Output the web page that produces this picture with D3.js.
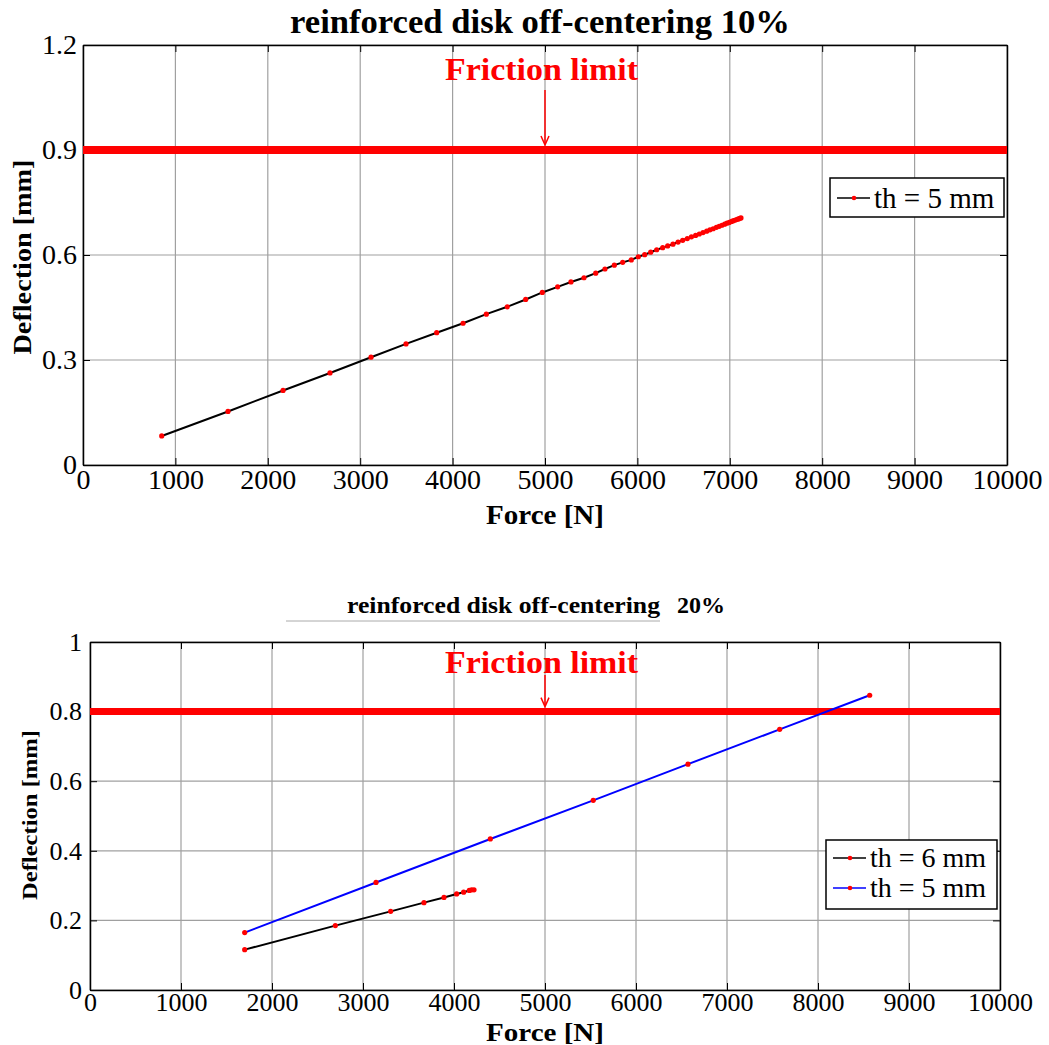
<!DOCTYPE html>
<html>
<head>
<meta charset="utf-8">
<script src="https://cdn.jsdelivr.net/npm/d3@7"></script>
<style>
    body { margin: 0; background: #fff; }
    text { font-family: "Liberation Serif", "Times New Roman", serif; }
</style>
</head>
<body>
<script>
// top chart: off-centering 10%, th = 5 mm
var force10 = [852, 1569, 2165, 2673, 3117, 3496, 3828, 4113, 4365, 4592, 4791, 4971, 5137,
    5281, 5422, 5549, 5649, 5750, 5841, 5934, 6010, 6079, 6144, 6209, 6274, 6328, 6385,
    6440, 6490, 6540, 6585, 6630, 6670, 6710, 6750, 6785, 6820, 6855, 6885, 6915, 6945,
    6970, 6995, 7020, 7040, 7060, 7080, 7095, 7110, 7121];
var defl10 = [0.083, 0.153, 0.213, 0.263, 0.308, 0.346, 0.378, 0.405, 0.431, 0.452, 0.473, 0.493, 0.509,
    0.523, 0.535, 0.548, 0.560, 0.571, 0.579, 0.586, 0.595, 0.601, 0.608, 0.615, 0.621, 0.626, 0.631,
    0.637, 0.642, 0.647, 0.652, 0.656, 0.660, 0.664, 0.668, 0.672, 0.675, 0.679, 0.682, 0.685, 0.688,
    0.691, 0.693, 0.696, 0.698, 0.700, 0.702, 0.703, 0.705, 0.706];
var limit10 = 0.9;

// bottom chart: off-centering 20%
var force20th6 = [1700, 2696, 3304, 3670, 3890, 4029, 4106, 4168, 4194, 4220];
var defl20th6 = [0.116, 0.185, 0.226, 0.251, 0.266, 0.276, 0.281, 0.286, 0.288, 0.288];
var force20th5 = [1700, 3143, 4399, 5530, 6571, 7579, 8568];
var defl20th5 = [0.165, 0.309, 0.434, 0.545, 0.649, 0.749, 0.847];
var limit20 = 0.8;

var xTicks = d3.range(0, 10001, 1000);
var yTicks10 = [0, 0.3, 0.6, 0.9, 1.2];
var yTicks20 = [0, 0.2, 0.4, 0.6, 0.8, 1];

var serif = "'Liberation Serif', 'Times New Roman', serif";

var svg = d3.select("body").append("svg")
    .attr("width", 1049)
    .attr("height", 1045);

function zip(xs, ys) {
    return xs.map(function (x, i) { return [x, ys[i]]; });
}

function drawPanel(opt) {
    var x = d3.scaleLinear().domain([0, 10000]).range([opt.left, opt.right]);
    var y = d3.scaleLinear().domain([0, opt.ymax]).range([opt.bottom, opt.top]);
    var g = svg.append("g");

    // grid
    g.selectAll(".vg").data(xTicks).enter().append("line")
        .attr("x1", function (d) { return x(d); })
        .attr("x2", function (d) { return x(d); })
        .attr("y1", opt.top).attr("y2", opt.bottom)
        .attr("stroke", "#a0a0a0").attr("stroke-width", 1.2);
    g.selectAll(".hg").data(opt.yTicks).enter().append("line")
        .attr("x1", opt.left).attr("x2", opt.right)
        .attr("y1", function (d) { return y(d); })
        .attr("y2", function (d) { return y(d); })
        .attr("stroke", "#a0a0a0").attr("stroke-width", 1.2);

    // axes (MATLAB style: ticks inside, on all sides)
    var xAxis = d3.axisBottom(x).tickValues(xTicks).tickSizeInner(-7).tickSizeOuter(0)
        .tickPadding(opt.xPad).tickFormat(d3.format("d"));
    var yAxis = d3.axisLeft(y).tickValues(opt.yTicks).tickSizeInner(-7).tickSizeOuter(0)
        .tickPadding(opt.yPad).tickFormat(opt.yFormat);
    var gx = g.append("g").attr("transform", "translate(0," + opt.bottom + ")").call(xAxis);
    var gy = g.append("g").attr("transform", "translate(" + opt.left + ",0)").call(yAxis);
    var gxt = g.append("g").attr("transform", "translate(0," + opt.top + ")")
        .call(d3.axisTop(x).tickValues(xTicks).tickSizeInner(-7).tickSizeOuter(0).tickFormat(""));
    var gyr = g.append("g").attr("transform", "translate(" + opt.right + ",0)")
        .call(d3.axisRight(y).tickValues(opt.yTicks).tickSizeInner(-7).tickSizeOuter(0).tickFormat(""));
    [gx, gy, gxt, gyr].forEach(function (a) {
        a.select(".domain").attr("stroke", "#000").attr("stroke-width", 1.5);
        a.selectAll(".tick line").attr("stroke", "#000");
    });
    gx.selectAll(".tick text").attr("font-size", opt.tickSize).attr("fill", "#000")
        .style("font-family", serif);
    gy.selectAll(".tick text").attr("font-size", opt.tickSize).attr("fill", "#000")
        .style("font-family", serif);

    // friction limit
    g.append("line")
        .attr("x1", opt.left).attr("x2", opt.right)
        .attr("y1", y(opt.limit)).attr("y2", y(opt.limit))
        .attr("stroke", "#ff0000").attr("stroke-width", opt.limitWidth);
    g.append("text")
        .attr("x", 445).attr("y", opt.fricY)
        .attr("textLength", 193).attr("lengthAdjust", "spacingAndGlyphs")
        .attr("font-size", opt.fricSize).attr("font-weight", "bold")
        .attr("fill", "#ff0000")
        .text("Friction limit");
    g.append("line")
        .attr("x1", x(5000)).attr("x2", x(5000))
        .attr("y1", opt.arrowTop).attr("y2", y(opt.limit) - 6)
        .attr("stroke", "#ff0000").attr("stroke-width", 1.5);
    g.append("path")
        .attr("d", "M" + (x(5000) - 4) + "," + (y(opt.limit) - 14) + " L" + x(5000) + "," + (y(opt.limit) - 5)
            + " L" + (x(5000) + 4) + "," + (y(opt.limit) - 14))
        .attr("fill", "none").attr("stroke", "#ff0000").attr("stroke-width", 1.5);

    // series
    var line = d3.line().x(function (d) { return x(d[0]); }).y(function (d) { return y(d[1]); });
    opt.series.forEach(function (s) {
        var pts = zip(s.xs, s.ys);
        g.append("path").datum(pts)
            .attr("d", line).attr("fill", "none")
            .attr("stroke", s.color).attr("stroke-width", 2);
        g.selectAll(null).data(pts).enter().append("circle")
            .attr("cx", function (d) { return x(d[0]); })
            .attr("cy", function (d) { return y(d[1]); })
            .attr("r", 2.6).attr("fill", "#ff0000");
    });

    // legend
    var lg = g.append("g");
    lg.append("rect")
        .attr("x", opt.legend.x).attr("y", opt.legend.y)
        .attr("width", opt.legend.w).attr("height", opt.legend.h)
        .attr("fill", "#fff").attr("stroke", "#000").attr("stroke-width", 1.5);
    opt.series.forEach(function (s, i) {
        var ly = opt.legend.y + opt.legend.rowStart + i * opt.legend.rowH;
        var lx = opt.legend.x + 7;
        lg.append("line").attr("x1", lx).attr("x2", lx + 33)
            .attr("y1", ly).attr("y2", ly)
            .attr("stroke", s.color).attr("stroke-width", 1.3);
        lg.append("circle").attr("cx", lx + 17).attr("cy", ly).attr("r", 2.3).attr("fill", "#ff0000");
        lg.append("text").attr("x", lx + 37).attr("y", ly + opt.legend.size * 0.33)
            .attr("font-size", opt.legend.size).attr("fill", "#000")
            .text(s.name);
    });

    // labels
    g.append("text")
        .attr("x", (opt.left + opt.right) / 2).attr("y", opt.xLabelY)
        .attr("text-anchor", "middle").attr("font-weight", "bold")
        .attr("textLength", 118).attr("lengthAdjust", "spacingAndGlyphs")
        .attr("font-size", opt.labelSize).text("Force [N]");
    g.append("text")
        .attr("transform", "translate(" + opt.yLabelX + "," + opt.yLabelMid + ") rotate(-90)")
        .attr("text-anchor", "middle").attr("font-weight", "bold")
        .attr("textLength", opt.yLabelLen).attr("lengthAdjust", "spacingAndGlyphs")
        .attr("font-size", opt.yLabelSize).text("Deflection [mm]");
    return g;
}

drawPanel({
    left: 83, right: 1007, top: 45, bottom: 465, ymax: 1.2,
    yTicks: yTicks10, yFormat: function (d) { return d === 0 ? "0" : d3.format(".1f")(d); },
    tickSize: 28, xPad: 4, yPad: 6, limit: limit10, limitWidth: 8,
    fricY: 80, fricSize: 32, arrowTop: 90,
    series: [{ xs: force10, ys: defl10, color: "#000", name: "th = 5 mm" }],
    legend: { x: 830, y: 178, w: 174, h: 39, rowStart: 20, rowH: 30, size: 29 },
    xLabelY: 524, labelSize: 28, yLabelX: 31, yLabelMid: 257, yLabelLen: 195, yLabelSize: 25
});

drawPanel({
    left: 90, right: 1000, top: 642, bottom: 990, ymax: 1,
    yTicks: yTicks20, yFormat: function (d) { return d3.format("")(d); },
    tickSize: 26, xPad: 3, yPad: 8, limit: limit20, limitWidth: 7,
    fricY: 673, fricSize: 32, arrowTop: 675,
    series: [
        { xs: force20th6, ys: defl20th6, color: "#000", name: "th = 6 mm" },
        { xs: force20th5, ys: defl20th5, color: "#0000ff", name: "th = 5 mm" }
    ],
    legend: { x: 826, y: 840, w: 171, h: 69, rowStart: 18, rowH: 30, size: 28 },
    xLabelY: 1041, labelSize: 25, yLabelX: 37, yLabelMid: 815, yLabelLen: 170, yLabelSize: 22
});

// titles
svg.append("text")
    .attr("x", 290).attr("y", 33)
    .attr("textLength", 500).attr("lengthAdjust", "spacingAndGlyphs")
    .attr("font-weight", "bold")
    .attr("font-size", 34).text("reinforced disk off-centering 10%");
svg.append("line")
    .attr("x1", 286).attr("x2", 660).attr("y1", 621).attr("y2", 621)
    .attr("stroke", "#aaa").attr("stroke-width", 1);
svg.append("text")
    .attr("x", 347).attr("y", 613)
    .attr("textLength", 313).attr("lengthAdjust", "spacingAndGlyphs")
    .attr("font-weight", "bold")
    .attr("font-size", 24).text("reinforced disk off-centering");
svg.append("text")
    .attr("x", 677).attr("y", 613)
    .attr("font-weight", "bold")
    .attr("font-size", 24).text("20%");
</script>
</body>
</html>
